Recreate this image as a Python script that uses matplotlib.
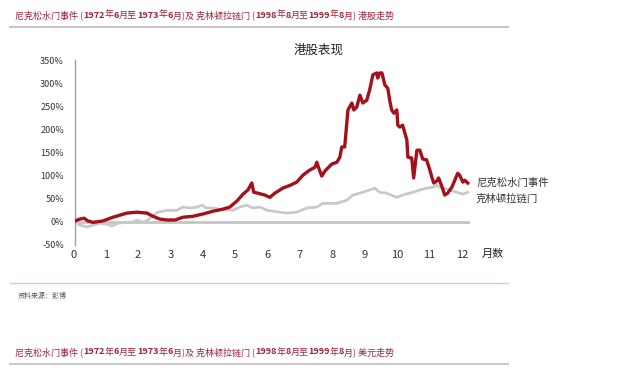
import matplotlib
matplotlib.use("Agg")
import matplotlib.pyplot as plt

plt.rcParams['font.family'] = ['Noto Sans CJK SC', 'DejaVu Sans']

# 尼克松水门事件 (1972/6 - 1973/6) 港股累计涨幅 (%)，横轴为月数
nixon_m = [0.00, 0.15, 0.28, 0.40, 0.56, 0.86, 1.17, 1.60, 1.91, 2.22, 2.41, 2.62,
           2.84, 3.09, 3.33, 3.64, 3.95, 4.26, 4.54, 4.78, 5.00, 5.19, 5.34, 5.46,
           5.52, 5.65, 5.86, 6.02, 6.17, 6.42, 6.64, 6.85, 7.04, 7.25, 7.41, 7.47,
           7.53, 7.62, 7.72, 7.93, 8.09, 8.18, 8.24, 8.33, 8.43, 8.55, 8.61, 8.70,
           8.80, 8.89, 9.01, 9.10, 9.20, 9.32, 9.35, 9.41, 9.48, 9.57, 9.66, 9.72,
           9.78, 9.85, 9.94, 9.97, 10.03, 10.12, 10.25, 10.28, 10.40, 10.46, 10.56,
           10.65, 10.74, 10.86, 10.96, 11.02, 11.08, 11.17, 11.23, 11.33, 11.42,
           11.51, 11.64, 11.73, 11.82, 11.88, 11.98, 12.04, 12.13]
nixon_v = [2, 6, 8, 2, -1, 2, 10, 19, 21, 19, 12, 6,
           4, 4, 10, 12, 17, 23, 27, 32, 45, 60, 69, 84,
           64, 62, 58, 53, 62, 73, 79, 86, 101, 112, 118, 129,
           116, 99, 110, 125, 129, 140, 162, 162, 242, 257, 242, 248,
           274, 257, 263, 285, 318, 322, 311, 322, 322, 296, 289, 263,
           242, 235, 242, 209, 205, 209, 177, 140, 138, 95, 155,
           155, 136, 134, 112, 97, 84, 88, 95, 77, 58,
           62, 75, 90, 105, 101, 86, 90, 84]

# 克林顿拉链门 (1998/8 - 1999/8) 港股累计涨幅 (%)
clinton_m = [0.00, 0.15, 0.37, 0.56, 0.77, 0.99, 1.14, 1.33, 1.54, 1.76, 1.91, 2.10,
             2.25, 2.41, 2.56, 2.84, 3.15, 3.33, 3.55, 3.77, 3.92, 4.07, 4.26, 4.48,
             4.88, 5.09, 5.31, 5.49, 5.71, 5.93, 6.33, 6.54, 6.85, 7.16, 7.47, 7.65,
             7.87, 8.09, 8.40, 8.58, 8.89, 9.26, 9.41, 9.63, 9.94, 10.12, 10.43,
             10.65, 10.86, 11.05, 11.17, 11.27, 11.57, 11.79, 11.98, 12.13]
clinton_v = [0, -7, -11, -7, -3, -5, -9, -3, -1, -1, 4, -1,
             4, 14, 21, 25, 25, 32, 30, 32, 36, 30, 30, 27,
             25, 32, 36, 30, 32, 25, 21, 19, 21, 30, 32, 40,
             40, 40, 47, 58, 64, 73, 64, 62, 53, 58, 64,
             69, 73, 75, 79, 75, 69, 64, 60, 64]

y_ticks = [-50, 0, 50, 100, 150, 200, 250, 300, 350]
x_ticks = list(range(13))

RED = "#A3121B"
GREY = "#C9C9C9"
HEAD = "#9B2335"

fig = plt.figure(figsize=(6.4, 3.84), dpi=100)
ax = fig.add_axes([75 / 640, 1 - 245 / 384, 395 / 640, 185 / 384])

ax.axhline(0, color="#C4C4C4", lw=2, zorder=1)
ax.plot(clinton_m, clinton_v, color=GREY, lw=2, zorder=2)
ax.plot(nixon_m, nixon_v, color=RED, lw=2.4, zorder=3)

ax.set_xlim(0, 12.2)
ax.set_ylim(-50, 350)
ax.set_yticks(y_ticks)
ax.set_yticklabels([f"{t}%" for t in y_ticks], fontsize=6.5, color="#333333")
ax.set_xticks([])
for s in ["top", "right", "bottom"]:
    ax.spines[s].set_visible(False)
ax.spines["left"].set_color("#A0A0A0")
ax.spines["left"].set_linewidth(1)
ax.tick_params(axis="y", length=0, pad=8)

# x 轴刻度标签画在 -50% 之下
for t in x_ticks:
    ax.text(t - 0.05, -71, str(t), ha="center", va="center", fontsize=8, color="#333333",
            transform=ax.transData, clip_on=False)
fig.text(482 / 640, 1 - 254 / 384, "月数", fontsize=8, va="center", color="#222222")

fig.text(319 / 640, 1 - 50 / 384, "港股表现", fontsize=9, ha="center", va="center",
         color="#222222")
fig.text(476 / 640, 1 - 183 / 384, "尼克松水门事件", fontsize=7.5, va="center", color="#333333")
fig.text(476 / 640, 1 - 199 / 384, "克林顿拉链门", fontsize=7.5, va="center", color="#333333")


def header(y_px, tail):
    # 标题：汉字细体，数字粗体，逐段拼接
    parts = [("尼克松水门事件 (", "normal"), ("1972", "bold"), ("年", "normal"),
             ("6", "bold"), ("月至", "normal"), ("1973", "bold"), ("年", "normal"),
             ("6", "bold"), ("月)及 克林顿拉链门 (", "normal"), ("1998", "bold"),
             ("年", "normal"), ("8", "bold"), ("月至", "normal"), ("1999", "bold"),
             ("年", "normal"), ("8", "bold"), ("月) " + tail, "normal")]
    r = fig.canvas.get_renderer()
    x = 15 / 640
    for s, w in parts:
        t = fig.text(x, 1 - y_px / 384, s, fontsize=6.5, fontweight=w, color=HEAD,
                     va="center")
        bb = t.get_window_extent(renderer=r)
        x = bb.x1 / fig.bbox.width


header(15, "港股走势")
fig.add_artist(plt.Line2D([10 / 640, 508 / 640], [1 - 27 / 384] * 2, color="#CFC6C8", lw=1.5))

fig.add_artist(plt.Line2D([10 / 640, 508 / 640], [1 - 283 / 384] * 2, color="#D9C9CC", lw=1))
fig.text(18 / 640, 1 - 296 / 384, "资料来源：彭博", fontsize=5, color="#555555", va="center")

header(352, "美元走势")
fig.add_artist(plt.Line2D([10 / 640, 508 / 640], [1 - 364 / 384] * 2, color="#CFC6C8", lw=1.5))

fig.savefig("out.png", dpi=100)
